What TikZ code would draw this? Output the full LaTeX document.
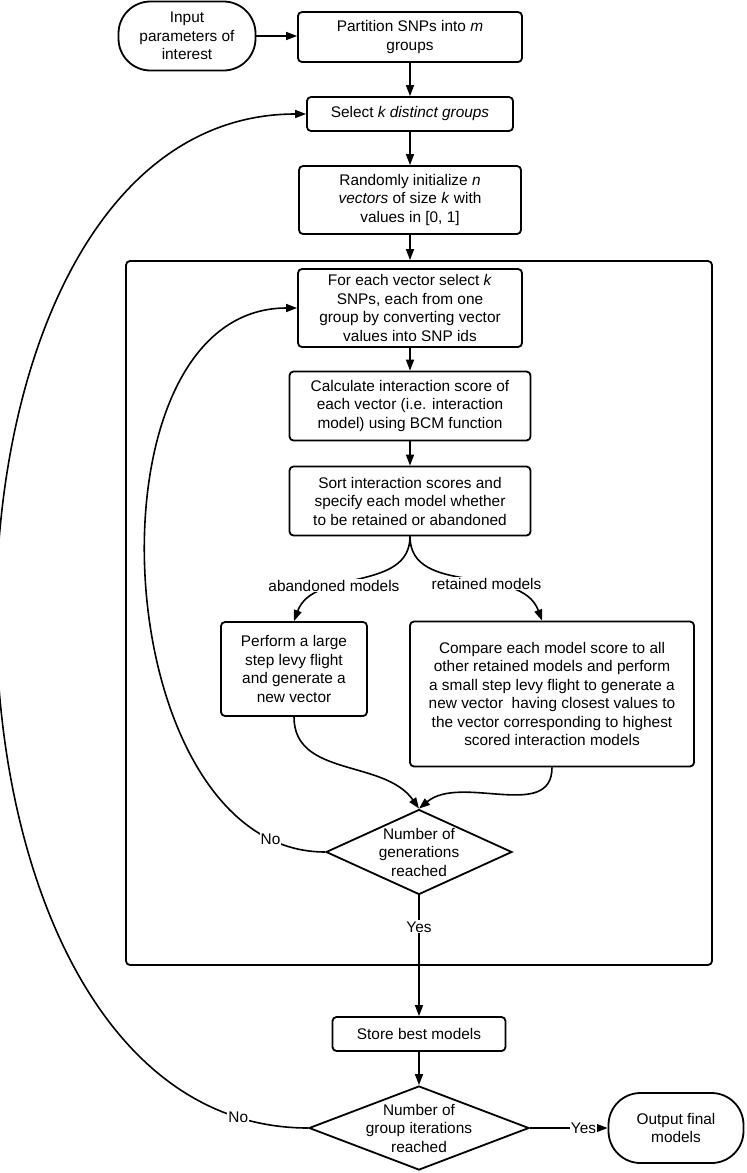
\documentclass[tikz,border=0pt]{standalone}
\usepackage{fontspec}
\setmainfont{Liberation Sans}
\usetikzlibrary{arrows.meta,shapes.geometric,positioning}

\tikzset{
  box/.style={draw,rectangle,rounded corners=4pt,align=center,line width=1.8pt,inner sep=2pt},
  term/.style={draw,rectangle,rounded corners=32pt,align=center,line width=1.8pt},
  test/.style={draw,diamond,align=center,line width=1.8pt,inner sep=-5pt},
  lbl/.style={fill=white,inner sep=1pt},
}

\begin{document}
\begin{tikzpicture}[x=1pt,y=-1pt,every node/.style={font=\fontsize{15.4}{18.5}\selectfont}]
		\useasboundingbox (0,0) rectangle (747,1173);

		\node[term,minimum width=137pt,minimum height=69pt] (inp) at (187,36) {Input\\parameters of\\interest};
		\node[box,minimum width=224pt,minimum height=50pt] (part) at (410,37) {Partition SNPs into \textit{m}\\groups};
		\node[box,minimum width=206pt,minimum height=34pt] (sel) at (410,114) {Select \textit{k distinct groups}};
		\node[box,minimum width=222pt,minimum height=68pt] (rnd) at (410,200) {Randomly initialize \textit{n}\\\textit{vectors} of size \textit{k} with\\values in [0, 1]};

		\node[draw,rounded corners=4pt,line width=1.8pt,minimum width=586pt,minimum height=704pt] (loop) at (419,613) {};

		\node[box,minimum width=224pt,minimum height=78pt] (each) at (410,308) {For each vector select \textit{k}\\SNPs, each from one\\group by converting vector\\values into SNP ids};
		\node[box,minimum width=241pt,minimum height=69pt] (calc) at (410,406) {Calculate interaction score of\\each vector (i.e. interaction\\model) using BCM function};
		\node[box,minimum width=241pt,minimum height=69pt] (sort) at (410,501) {Sort interaction scores and\\specify each model whether\\to be retained or abandoned};
		\node[box,minimum width=146pt,minimum height=94pt] (perf) at (294,669) {Perform a large\\step levy flight\\and generate a\\new vector};
		\node[box,minimum width=284pt,minimum height=145pt] (comp) at (552,694) {Compare each model score to all\\other retained models and perform\\a small step levy flight to generate a\\new vector\ \ having closest values to\\the vector corresponding to highest\\scored interaction models};
		\node[test,shape aspect=2.19,minimum width=186pt,minimum height=85pt] (gen) at (419,852) {Number of\\generations\\reached};

		\node[box,minimum width=173pt,minimum height=34pt] (store) at (419,1034) {Store best models};
		\node[test,shape aspect=2.62,minimum width=220pt,minimum height=84pt] (grp) at (419,1128) {Number of\\group iterations\\reached};
		\node[term,minimum width=135pt,minimum height=70pt] (outp) at (676,1128) {Output final\\models};

		\begin{scope}[>={Triangle[length=11pt,width=8pt]},line width=1.6pt]
			\draw[->] (inp.east) -- (inp.east -| part.west);
			\draw[->] (part) -- (sel);
			\draw[->] (sel) -- (rnd);
			\draw[->] (rnd.south) -- (rnd.south |- loop.north);

			\draw[->] (each) -- (calc);
			\draw[->] (calc) -- (sort);
			\draw[->] (sort.south) to[out=-90,in=70] node[lbl,pos=0.62,xshift=-6pt] {abandoned models} (perf.north);
			\draw[->] (sort.south) to[out=-90,in=110] node[lbl,pos=0.6] {retained models} ([xshift=-10pt]comp.north);
			\draw[->] (perf.south) to[out=-90,in=125] (gen.north);
			\draw[->] (comp.south) to[out=-90,in=40] (gen.north);
			\draw[->] (gen.west) to[out=180,in=180,looseness=1.03] node[lbl,pos=0.09] {No} (each.west);

			\draw[->] (gen.south) -- node[lbl,pos=0.26] {Yes} (store.north);
			\draw[->] (store) -- (grp);
			\draw[->] (grp.west) to[out=180,in=180,looseness=1.04] node[lbl,pos=0.06] {No} (sel.west);
			\draw[->] (grp.east) -- node[lbl,pos=0.69] {Yes} (outp.west);
		\end{scope}
	\end{tikzpicture}
\end{document}
